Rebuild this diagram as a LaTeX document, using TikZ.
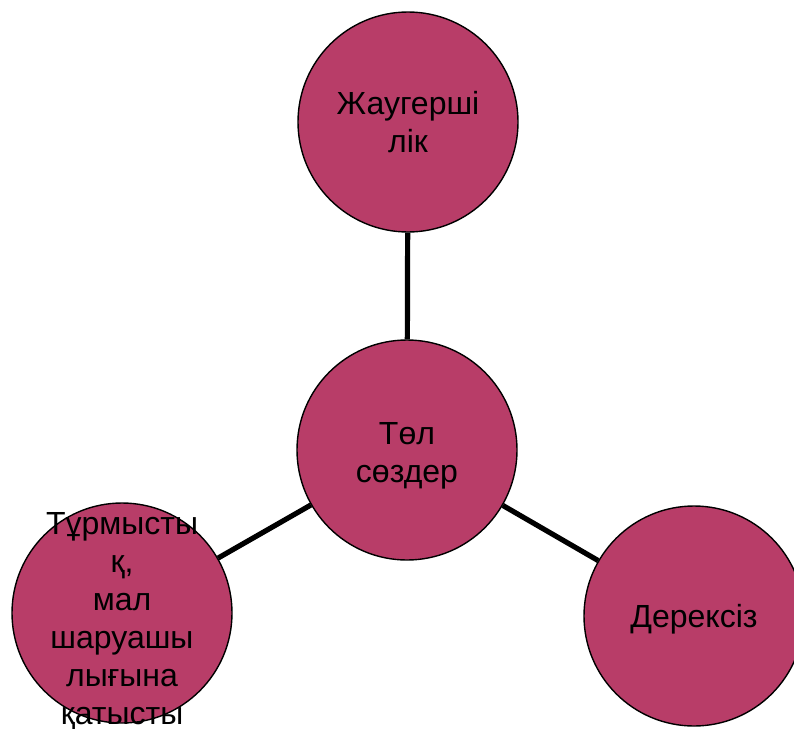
\documentclass[tikz,border=0pt]{standalone}
\usepackage{fontspec}
\setmainfont{Liberation Sans}
\definecolor{disc}{HTML}{B83D68}

\begin{document}
\begin{tikzpicture}[
  x=1pt, y=-1pt,
  every node/.style={font=\fontsize{32}{38}\selectfont, inner sep=0pt},
  disc/.style={circle, draw=black, fill=disc, line width=1.4pt, minimum size=220pt},
  txt/.style={align=center, text=black},
  link/.style={draw=black, line width=5.2pt},
]
\useasboundingbox (0,0) rectangle (794,728);
\node[disc, label={[txt]center:{Жаугерші\\лік}}] (top) at (408,122) {};
\node[disc, label={[txt, yshift=-6pt]center:{Төл\\сөздер}}] (mid) at (407,450) {};
\node[disc, label={[txt, yshift=-9pt]center:{Тұрмысты\\қ,\\мал\\шаруашы\\лығына\\қатысты}}] (left) at (122,613) {};
\node[disc, label={[txt, yshift=-3.5pt]center:{Дерексіз}}] (right) at (694,616) {};
\draw[link] (mid) -- (top);
\draw[link] (mid) -- (left);
\draw[link] (mid) -- (right);
\end{tikzpicture}
\end{document}
